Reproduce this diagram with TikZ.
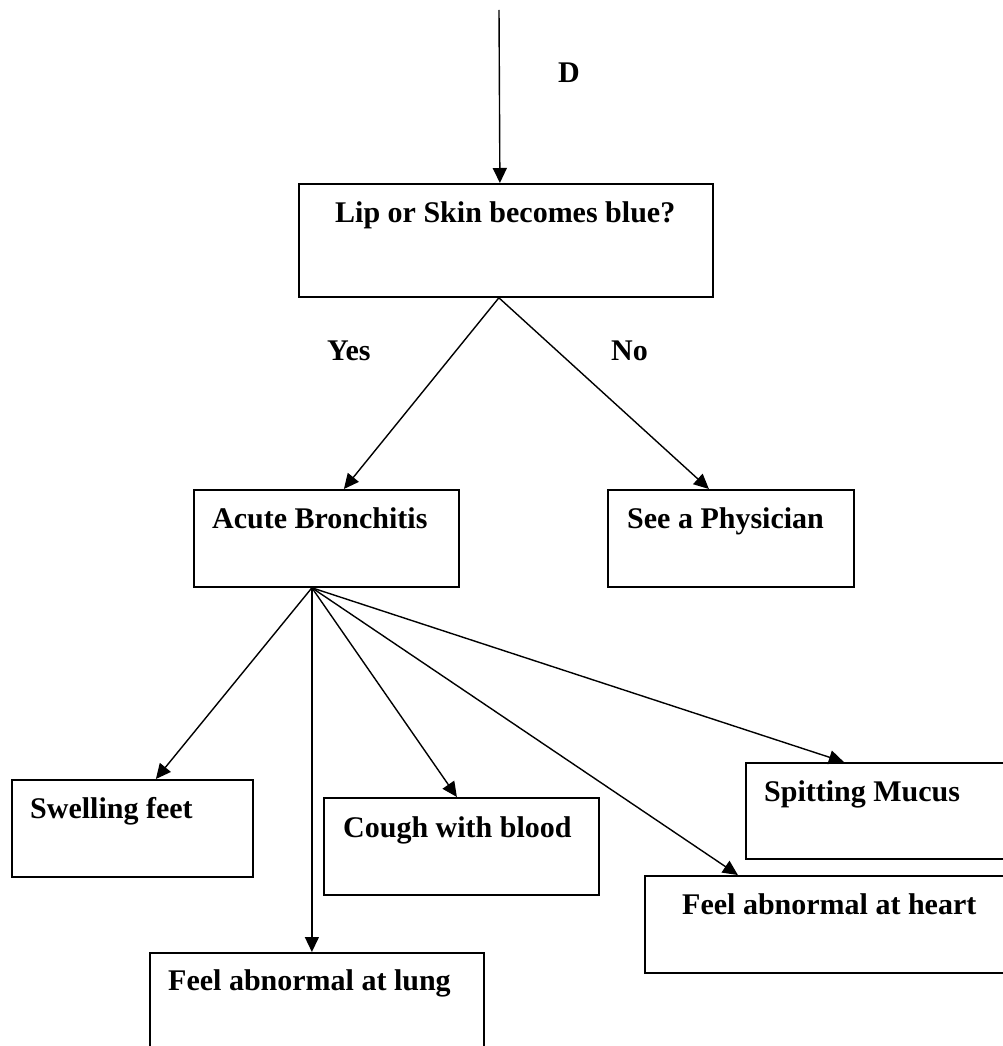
\documentclass[tikz,border=0pt]{standalone}
\usepackage{fontspec}
\setmainfont{Liberation Serif}
\usetikzlibrary{arrows.meta,calc}

\tikzset{
  box/.style={draw, line width=1.8pt, rectangle, anchor=north west, inner sep=0pt},
  lbl/.style={anchor=base west, inner sep=0pt, font=\fontsize{30}{36}\selectfont\bfseries},
  conn/.style={line width=1.4pt, -{Triangle[length=15pt,width=14pt]}},
}

\begin{document}
\begin{tikzpicture}[x=1pt,y=-1pt]
\useasboundingbox (0,0) rectangle (1003,1046);
\clip (0,0) rectangle (1003,1046);

% decision box and its two outcomes
\node[box, minimum width=414pt, minimum height=113pt] (q) at (298,183) {};
\node[box, minimum width=265pt, minimum height=97pt] (acute) at (193,489) {};
\node[box, minimum width=246pt, minimum height=97pt] (phys) at (607,489) {};

% symptoms of acute bronchitis
\node[box, minimum width=241pt, minimum height=97pt] (swell) at (11,779) {};
\node[box, minimum width=334pt, minimum height=120pt] (lung) at (149,952) {};
\node[box, minimum width=275pt, minimum height=97pt] (cough) at (323,797) {};
\node[box, minimum width=300pt, minimum height=96pt] (mucus) at (745,762) {};
\node[box, minimum width=380pt, minimum height=97pt] (heart) at (644,875) {};

% texts
\node[lbl] (tD) at (558,83) {D};
\node[lbl] (tq) at (335,222) {Lip or Skin becomes blue?};
\node[lbl] (tyes) at (327,360) {Yes};
\node[lbl] (tno) at (611,360) {No};
\node[lbl] (tacute) at (212,528) {Acute Bronchitis};
\node[lbl] (tphys) at (627,528) {See a Physician};
\node[lbl] (tswell) at (30,818) {Swelling feet};
\node[lbl] (tcough) at (343,837) {Cough with blood};
\node[lbl] (tmucus) at (764,801) {Spitting Mucus};
\node[lbl] (theart) at (682,914) {Feel abnormal at heart};
\node[lbl] (tlung) at (168,990) {Feel abnormal at lung};

% connectors
\coordinate (in) at (499,10);
\coordinate (qout) at ([xshift=-7pt]q.south);
\coordinate (fan) at ([xshift=-14.5pt]acute.south);

\draw[conn] (in) -- ([xshift=-6pt]q.north);
\draw[conn] (qout) -- ([xshift=17.5pt]acute.north);
\draw[conn] (qout) -- ([xshift=-22pt]phys.north);

\draw[conn] (fan) -- ([xshift=23.5pt]swell.north);
\draw[conn] (fan) -- (fan |- lung.north);
\draw[conn] (fan) -- ([xshift=-4.5pt]cough.north);
\draw[conn] (fan) -- ([xshift=-97pt]heart.north);
\draw[conn] (fan) -- ([xshift=-52pt]mucus.north);
\end{tikzpicture}
\end{document}
